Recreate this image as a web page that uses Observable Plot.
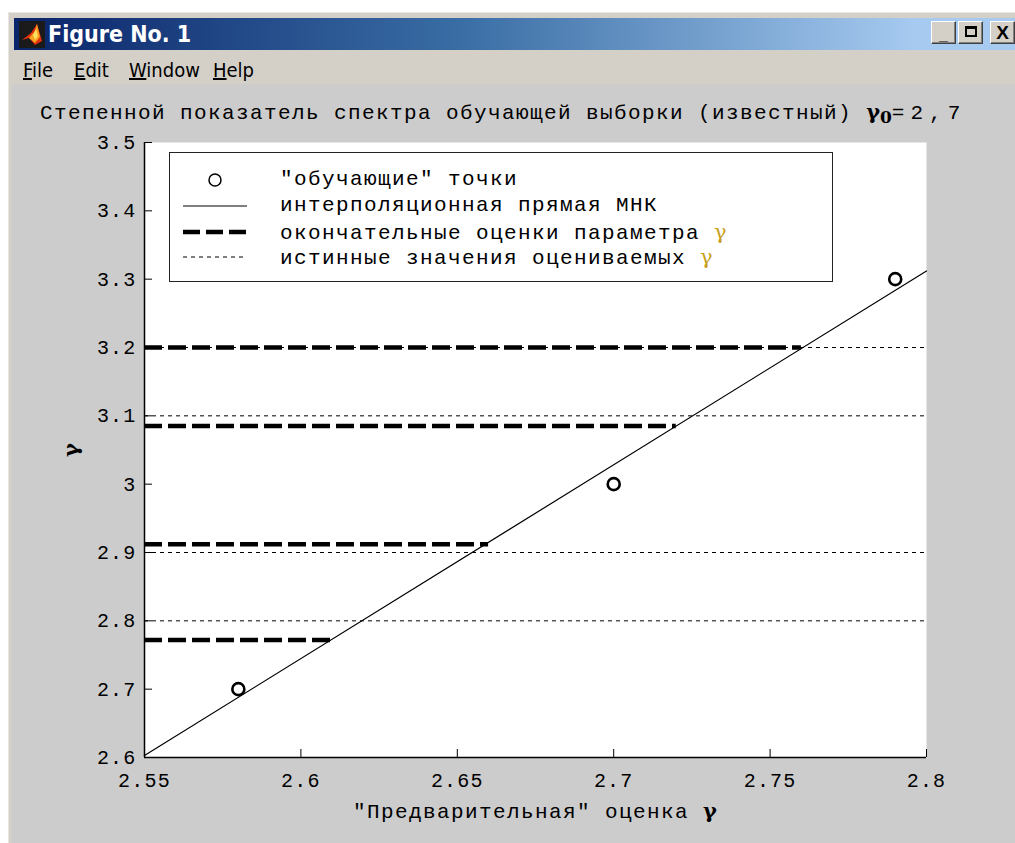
<!DOCTYPE html>
<html><head><meta charset="utf-8">
<script src="https://cdn.jsdelivr.net/npm/d3@7"></script>
<script src="https://cdn.jsdelivr.net/npm/@observablehq/plot@0.6"></script>
<style>
html,body{margin:0;padding:0;}
body{background:#fff;width:1015px;height:843px;overflow:hidden;position:relative;font-family:"Liberation Mono","DejaVu Sans Mono",monospace;}
.abs{position:absolute;}
#win{left:8px;top:12px;width:1007px;height:831px;background:#d4d0c8;border-top:1px solid #e9e7e2;border-left:1px solid #e9e7e2;box-sizing:border-box;}
#titlebar{left:14px;top:18px;width:1001px;height:32px;background:linear-gradient(to right,#0a246a 0%,#3a6ea5 45%,#a6caf0 90%,#a6caf0 100%);}
#titletext{left:48px;top:18px;height:32px;line-height:32px;color:#fff;font-family:"Liberation Sans Narrow","DejaVu Sans Condensed","Liberation Sans",sans-serif;font-weight:bold;font-size:23px;}
.btn{top:21px;width:25px;height:23px;background:#d4d0c8;border-top:1px solid #fff;border-left:1px solid #fff;border-right:1px solid #404040;border-bottom:1px solid #404040;box-shadow:inset -1px -1px 0 #808080;box-sizing:border-box;font-family:"Liberation Sans",sans-serif;font-weight:bold;color:#000;text-align:center;}
#menu{left:12px;top:50px;width:1003px;height:34px;background:#d4d0c8;}
.mi{top:56px;line-height:28px;font-family:"Liberation Sans Narrow","DejaVu Sans Condensed","Liberation Sans",sans-serif;font-size:20px;color:#000;}
.mi u{text-decoration:underline;}
#fig{left:12px;top:84px;width:1003px;height:759px;background:#cccccc;}
.txt{font-family:"Liberation Mono","DejaVu Sans Mono",monospace;font-size:21px;letter-spacing:1.4px;color:#000;white-space:pre;}
.g{font-family:"DejaVu Serif","Liberation Serif",serif;font-weight:bold;letter-spacing:0;}
.gy{font-family:"DejaVu Serif","Liberation Serif",serif;letter-spacing:0;color:#c9a020;}
#legend{left:169px;top:152px;width:664px;height:130px;background:#fff;border:1px solid #222;box-sizing:border-box;}
</style></head><body>
<div id="win" class="abs"></div>
<div id="titlebar" class="abs"></div>
<svg class="abs" style="left:19px;top:21px" width="26" height="27" viewBox="0 0 26 27">
  <rect x="0" y="0" width="26" height="27" fill="#1a1a1a"/>
  <polygon points="3,19 12,12 18,3 23,20 16,24 10,17" fill="#e03010"/>
  <polygon points="10,17 16,10 18,3 21,16 16,22" fill="#f8a020"/>
  <polygon points="14,14 17,8 19,15 16,19" fill="#ffe060"/>
</svg>
<div id="titletext" class="abs">Figure No. 1</div>
<div class="btn abs" style="left:931px;font-size:16px;line-height:26px;">_</div>
<div class="btn abs" style="left:958px;"><div style="margin:4px auto 0;width:12px;height:11px;border:2px solid #000;border-top-width:3px;box-sizing:border-box;"></div></div>
<div class="btn abs" style="left:990px;font-size:19px;line-height:21px;">X</div>
<div id="menu" class="abs"></div>
<div class="mi abs" style="left:23px"><u>F</u>ile</div>
<div class="mi abs" style="left:74px"><u>E</u>dit</div>
<div class="mi abs" style="left:129px"><u>W</u>indow</div>
<div class="mi abs" style="left:213px"><u>H</u>elp</div>
<div id="fig" class="abs"></div>
<div class="txt abs" style="left:40px;top:99px;line-height:26px;">Степенной показатель спектра обучающей выборки (известный) <span class="g">γ</span><span class="g" style="font-size:17px;position:relative;top:4px;">0</span><span style="letter-spacing:6px">=2,7</span></div>
<div id="chart" class="abs" style="left:12px;top:130px;"></div>
<div id="legend" class="abs"></div>
<svg id="legsym" class="abs" style="left:169px;top:152px" width="120" height="130"></svg>
<div class="txt abs" style="left:280px;top:167px;line-height:26px;">"обучающие" точки</div>
<div class="txt abs" style="left:280px;top:193px;line-height:26px;">интерполяционная прямая МНК</div>
<div class="txt abs" style="left:280px;top:219px;line-height:26px;">окончательные оценки параметра <span class="gy">γ</span></div>
<div class="txt abs" style="left:280px;top:244px;line-height:26px;">истинные значения оцениваемых <span class="gy">γ</span></div>
<div class="txt abs" style="left:535px;top:812px;line-height:26px;transform:translate(-50%,-50%);">"Предварительная" оценка <span class="g">γ</span></div>
<div class="txt abs" style="left:72px;top:450px;line-height:26px;transform:translate(-50%,-50%) rotate(-90deg);"><span class="g">γ</span></div>
<script>
// ---- data ----
const xDomain = [2.55, 2.8];
const yDomain = [2.6, 3.5];
const xTicks = [2.55, 2.6, 2.65, 2.7, 2.75, 2.8];
const yTicks = [2.6, 2.7, 2.8, 2.9, 3.0, 3.1, 3.2, 3.3, 3.4, 3.5];
const trainX = [2.58, 2.7, 2.79];          // "обучающие" точки
const trainY = [2.7, 3.0, 3.3];
const fitX = [2.55, 2.8];                   // интерполяционная прямая МНК
const fitY = [2.603, 3.312];
const estY = [2.772, 2.912, 3.085, 3.2];    // окончательные оценки
const estXEnd = [2.611, 2.66, 2.72, 2.76];
const trueY = [2.8, 2.9, 3.1, 3.2];         // истинные значения

const W = 1003, H = 713, mL = 132, mR = 89, mT = 12, mB = 86;
const innerW = W - mL - mR, innerH = H - mT - mB;

const points = trainX.map((x, i) => ({x, y: trainY[i]}));
const fit = fitX.map((x, i) => ({x, y: fitY[i]}));
const est = estY.map((y, i) => ({y, x1: xDomain[0], x2: estXEnd[i]}));

const chart = Plot.plot({
  width: W, height: H,
  marginLeft: mL, marginRight: mR, marginTop: mT, marginBottom: mB,
  style: {background: "#cccccc", fontFamily: "Liberation Mono, DejaVu Sans Mono, monospace", fontSize: "20px", color: "#000", letterSpacing: "1.2px", overflow: "visible"},
  x: {domain: xDomain},
  y: {domain: yDomain},
  marks: [
    Plot.frame({fill: "white", stroke: null}),
    Plot.ruleY(trueY, {y: d => d, stroke: "#000", strokeWidth: 1, strokeDasharray: "4,4"}),
    Plot.ruleY(est, {y: "y", x1: "x1", x2: "x2", stroke: "#000", strokeWidth: 4.5, strokeDasharray: "18,6"}),
    Plot.line(fit, {x: "x", y: "y", stroke: "#000", strokeWidth: 1.2}),
    Plot.dot(points, {x: "x", y: "y", r: 6, stroke: "#000", strokeWidth: 2.6, fill: "none"}),
    Plot.ruleX([xDomain[0]], {stroke: "#000", strokeWidth: 1.5}),
    Plot.ruleY([yDomain[0]], {stroke: "#000", strokeWidth: 1.5}),
    Plot.tickX(xTicks, {x: d => d, insetTop: innerH - 8, stroke: "#000"}),
    Plot.tickY(yTicks, {y: d => d, insetRight: innerW - 8, stroke: "#000"}),
    Plot.axisX(xTicks, {tickSize: 0, tickPadding: 15, tickFormat: d => String(d), label: null, fill: "#000"}),
    Plot.axisY(yTicks, {tickSize: 0, tickPadding: 8, tickFormat: d => String(d), label: null, fill: "#000"})
  ]
});
document.getElementById("chart").appendChild(chart);

// legend samples
const ls = d3.select("#legsym");
const rowsY = [28, 54, 80, 105];
ls.append("circle").attr("cx", 46).attr("cy", rowsY[0]).attr("r", 6).attr("fill", "none").attr("stroke", "#000").attr("stroke-width", 1.5);
ls.append("line").attr("x1", 14).attr("x2", 78).attr("y1", rowsY[1]).attr("y2", rowsY[1]).attr("stroke", "#000").attr("stroke-width", 1.2);
ls.append("line").attr("x1", 14).attr("x2", 78).attr("y1", rowsY[2]).attr("y2", rowsY[2]).attr("stroke", "#000").attr("stroke-width", 4.5).attr("stroke-dasharray", "17,6");
ls.append("line").attr("x1", 14).attr("x2", 78).attr("y1", rowsY[3]).attr("y2", rowsY[3]).attr("stroke", "#000").attr("stroke-width", 1).attr("stroke-dasharray", "4,4");
</script>
</body></html>
